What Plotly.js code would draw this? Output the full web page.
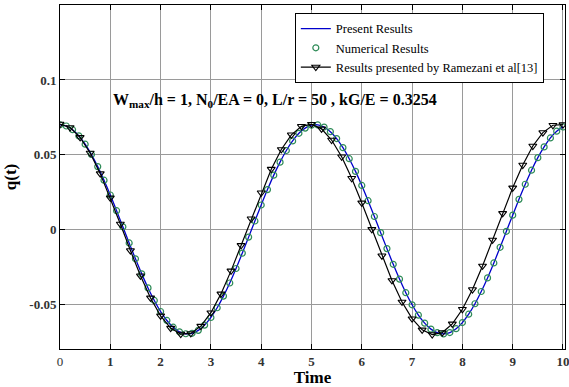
<!DOCTYPE html>
<html>
<head>
<meta charset="utf-8">
<script src="https://cdn.plot.ly/plotly-3.0.1.min.js"></script>
<style>html,body{margin:0;padding:0;background:#fff;}#chart{width:569px;height:387px;}</style>
</head>
<body>
<div id="chart"></div>
<script>
// Numerical results (circles) and present results (blue line), time step 0.125
var numericalT = [0,0.125,0.25,0.375,0.5,0.625,0.75,0.875,1,1.125,1.25,1.375,1.5,1.625,1.75,1.875,2,2.125,2.25,2.375,2.5,2.625,2.75,2.875,3,3.125,3.25,3.375,3.5,3.625,3.75,3.875,4,4.125,4.25,4.375,4.5,4.625,4.75,4.875,5,5.125,5.25,5.375,5.5,5.625,5.75,5.875,6,6.125,6.25,6.375,6.5,6.625,6.75,6.875,7,7.125,7.25,7.375,7.5,7.625,7.75,7.875,8,8.125,8.25,8.375,8.5,8.625,8.75,8.875,9,9.125,9.25,9.375,9.5,9.625,9.75,9.875,10];
var numericalQ = [0.0700,0.0692,0.0667,0.0626,0.0570,0.0501,0.0420,0.0329,0.0230,0.0125,0.0017,-0.0091,-0.0197,-0.0298,-0.0392,-0.0476,-0.0550,-0.0610,-0.0655,-0.0686,-0.0699,-0.0696,-0.0676,-0.0641,-0.0590,-0.0525,-0.0447,-0.0359,-0.0262,-0.0159,-0.0052,0.0056,0.0163,0.0266,0.0363,0.0450,0.0528,0.0592,0.0643,0.0678,0.0697,0.0699,0.0685,0.0654,0.0608,0.0547,0.0473,0.0388,0.0294,0.0192,0.0086,-0.0022,-0.0129,-0.0234,-0.0333,-0.0424,-0.0505,-0.0574,-0.0628,-0.0668,-0.0692,-0.0700,-0.0691,-0.0665,-0.0624,-0.0568,-0.0498,-0.0416,-0.0325,-0.0225,-0.0120,-0.0013,0.0095,0.0201,0.0302,0.0396,0.0480,0.0552,0.0612,0.0657,0.0686];
var presentT = numericalT;
var presentQ = numericalQ;
// Results presented by Ramezani et al [13], time step 0.2
var ramezaniT = [0,0.2,0.4,0.6,0.8,1,1.2,1.4,1.6,1.8,2,2.2,2.4,2.6,2.8,3,3.2,3.4,3.6,3.8,4,4.2,4.4,4.6,4.8,5,5.2,5.4,5.6,5.8,6,6.2,6.4,6.6,6.8,7,7.2,7.4,7.6,7.8,8,8.2,8.4,8.6,8.8,9,9.2,9.4,9.6,9.8,10];
var ramezaniQ = [0.0705,0.0682,0.0616,0.0511,0.0373,0.0211,0.0036,-0.0142,-0.0311,-0.0459,-0.0579,-0.0661,-0.0701,-0.0697,-0.0648,-0.0558,-0.0432,-0.0278,-0.0107,0.0071,0.0245,0.0403,0.0535,0.0633,0.0690,0.0704,0.0673,0.0598,0.0486,0.0342,0.0177,0.0000,-0.0177,-0.0342,-0.0486,-0.0598,-0.0673,-0.0704,-0.0691,-0.0633,-0.0535,-0.0403,-0.0245,-0.0071,0.0107,0.0278,0.0431,0.0558,0.0648,0.0697,0.0701];
var xTickVals = [0,1,2,3,4,5,6,7,8,9,10];
var xTickText = ['0','<b>1</b>','<b>2</b>','<b>3</b>','<b>4</b>','<b>5</b>','<b>6</b>','<b>7</b>','<b>8</b>','<b>9</b>','<b>10</b>'];
var yTickVals = [-0.05,0,0.05,0.1];
var yTickText = ['<b>-0.05</b>','<b>0</b>','<b>0.05</b>','<b>0.1</b>'];

var serif = 'Liberation Serif';
var traces = [
  {x: presentT, y: presentQ, mode: 'lines', name: 'Present Results',
   line: {color: '#0000cc', width: 1.3, shape: 'spline'}},
  {x: numericalT, y: numericalQ, mode: 'markers', name: 'Numerical Results',
   marker: {symbol: 'circle-open', size: 6, color: '#2e8b57', line: {width: 1.2, color: '#2e8b57'}}},
  {x: ramezaniT, y: ramezaniQ, mode: 'lines+markers', name: 'Results presented by Ramezani et al[13]',
   line: {color: '#000000', width: 1.2},
   marker: {symbol: 'triangle-down-open', size: 7, color: '#000', line: {width: 1.1, color: '#000'}}}
];
var axisCommon = {
  showline: true, linecolor: '#000', linewidth: 1, mirror: 'ticks',
  ticks: 'inside', ticklen: 5, tickcolor: '#000',
  showgrid: true, gridcolor: '#9a9a9a', gridwidth: 1, zeroline: false,
  ticklabeloverflow: 'allow',
  tickfont: {family: serif, size: 13, color: '#333'}
};
var layout = {
  width: 569, height: 387,
  margin: {l: 60, r: 4, t: 5, b: 38},
  paper_bgcolor: '#fff', plot_bgcolor: '#fff',
  font: {family: serif},
  showlegend: true,
  legend: {x: 0.465, y: 0.977, xanchor: 'left', yanchor: 'top',
    bgcolor: '#fff', bordercolor: '#000', borderwidth: 1,
    font: {family: serif, size: 12.5, color: '#000'}, tracegroupgap: 0},
  xaxis: Object.assign({}, axisCommon, {range: [0, 10.04], tickmode: 'array', tickvals: xTickVals, ticktext: xTickText,
    title: {text: '<b>Time</b>', font: {family: serif, size: 17, color: '#000'}, standoff: 2}}),
  yaxis: Object.assign({}, axisCommon, {range: [-0.0801, 0.1502], tickmode: 'array', tickvals: yTickVals, ticktext: yTickText,
    title: {text: '<b>q(t)</b>', font: {family: serif, size: 17, color: '#000'}, standoff: 8}}),
  annotations: [{
    xref: 'paper', yref: 'paper', x: 0.426, y: 0.721, xanchor: 'center', yanchor: 'middle', showarrow: false,
    text: '<b>W<sub>max</sub>/h = 1, N<sub>0</sub>/EA = 0, L/r = 50 , kG/E = 0.3254</b>',
    font: {family: serif, size: 16, color: '#000'}
  }]
};
Plotly.newPlot('chart', traces, layout, {displayModeBar: false, staticPlot: true});
</script>
</body>
</html>
